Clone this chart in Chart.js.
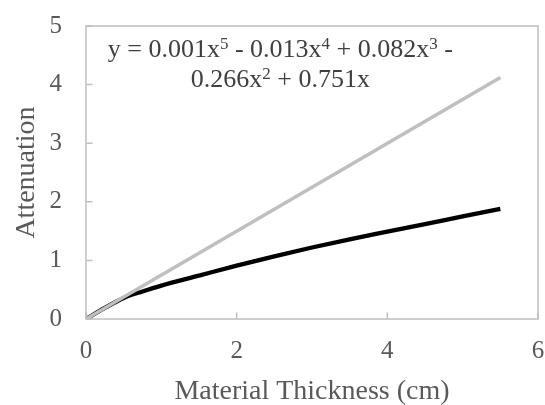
<!DOCTYPE html>
<html><head><meta charset="utf-8">
<script src="https://cdn.jsdelivr.net/npm/chart.js@4/dist/chart.umd.min.js"></script>
<style>html,body{margin:0;padding:0;background:#fff;overflow:hidden}</style>
</head><body>
<canvas id="c" width="545" height="405"></canvas>
<script>
// Data
const thickness = [0, 0.25, 0.5, 0.75, 1, 1.5, 2, 2.5, 3, 3.5, 4, 4.5, 5, 5.5];
const attenuationMeasured = [0, 0.19, 0.36, 0.47, 0.57, 0.74, 0.91, 1.07, 1.22, 1.36, 1.49, 1.62, 1.75, 1.88];
const linearX = [0, 5.5];
const linearY = [0, 4.12];
const xTickValues = [0, 2, 4, 6];
const yTickValues = [0, 1, 2, 3, 4, 5];
const xTitle = 'Material Thickness (cm)';
const yTitle = 'Attenuation';
const equationLine1 = [['y = 0.001x', 0], ['5', 1], [' - 0.013x', 0], ['4', 1], [' + 0.082x', 0], ['3', 1], [' -', 0]];
const equationLine2 = [['0.266x', 0], ['2', 1], [' + 0.751x', 0]];

const FONT = '"Liberation Serif", "Times New Roman", serif';
const TEXT = '#595959';

const toPts = (xs, ys) => xs.map((x, i) => ({x: x, y: ys[i]}));

const framePlugin = {
  id: 'frame',
  afterDatasetsDraw(chart) {
    const {ctx, chartArea: a, scales} = chart;
    ctx.save();
    ctx.strokeStyle = '#bfbfbf';
    ctx.lineWidth = 1.5;
    ctx.strokeRect(a.left, a.top, a.right - a.left, a.bottom - a.top);
    ctx.beginPath();
    yTickValues.forEach(v => {
      const y = scales.y.getPixelForValue(v);
      ctx.moveTo(a.left, y); ctx.lineTo(a.left + 6.5, y);
    });
    xTickValues.forEach(v => {
      const x = scales.x.getPixelForValue(v);
      ctx.moveTo(x, a.bottom); ctx.lineTo(x, a.bottom - 6.5);
    });
    ctx.stroke();
    // trendline equation
    const base = 26, sup = 17;
    const drawLine = (parts, cx, baseline) => {
      let w = 0;
      parts.forEach(p => { ctx.font = (p[1] ? sup : base) + 'px ' + FONT; w += ctx.measureText(p[0]).width; });
      let x = cx - w / 2;
      ctx.textAlign = 'left';
      ctx.textBaseline = 'alphabetic';
      ctx.fillStyle = '#404040';
      parts.forEach(p => {
        ctx.font = (p[1] ? sup : base) + 'px ' + FONT;
        ctx.fillText(p[0], x, p[1] ? baseline - 8 : baseline);
        x += ctx.measureText(p[0]).width;
      });
    };
    const cx = a.left + (a.right - a.left) * 0.43;
    drawLine(equationLine1, cx, a.top + 31);
    drawLine(equationLine2, cx, a.top + 61);
    ctx.restore();
  }
};

new Chart(document.getElementById('c'), {
  type: 'scatter',
  data: {
    datasets: [
      {data: toPts(linearX, linearY), showLine: true, borderColor: '#bfbfbf', borderWidth: 3.5, pointRadius: 0, tension: 0},
      {data: toPts(thickness, attenuationMeasured), showLine: true, borderColor: '#000000', borderWidth: 4.3, pointRadius: 0, cubicInterpolationMode: 'monotone'}
    ]
  },
  options: {
    responsive: false,
    animation: false,
    layout: {padding: {top: 26, right: 0, left: 0, bottom: 0}},
    plugins: {legend: {display: false}, tooltip: {enabled: false}},
    scales: {
      x: {
        type: 'linear', min: 0, max: 6,
        afterBuildTicks: s => { s.ticks = xTickValues.map(v => ({value: v})); },
        afterFit: s => { s.height = 86; s.paddingLeft = 0; s.paddingRight = 7; },
        ticks: {font: {family: FONT, size: 25}, color: TEXT, padding: 17},
        grid: {display: false, drawTicks: false},
        border: {display: false},
        title: {display: true, text: xTitle, color: TEXT, font: {family: FONT, size: 28, lineHeight: 1}, padding: {top: 12, bottom: -1}}
      },
      y: {
        type: 'linear', min: 0, max: 5,
        afterBuildTicks: s => { s.ticks = yTickValues.map(v => ({value: v})); },
        afterFit: s => { s.width = 86; s.paddingTop = 0; s.paddingBottom = 0; },
        ticks: {font: {family: FONT, size: 25}, color: TEXT, padding: 24},
        grid: {display: false, drawTicks: false},
        border: {display: false},
        title: {display: true, text: yTitle, color: TEXT, font: {family: FONT, size: 28, lineHeight: 1}, padding: {top: 13, bottom: 8}}
      }
    }
  },
  plugins: [framePlugin]
});
</script>
</body></html>
